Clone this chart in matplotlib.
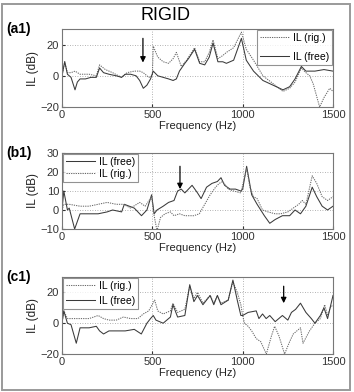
import matplotlib
matplotlib.use("Agg")
import matplotlib.pyplot as plt
from matplotlib.patches import Rectangle

plt.rcParams["font.family"] = ["Liberation Sans", "DejaVu Sans"]

# ---------------- data ----------------
# Panel (a1)
a_free_f = [0, 15, 30, 50, 72, 85, 100, 130, 160, 190, 208, 230, 260, 300, 330, 350, 380, 410, 430, 450, 470, 490,
            505, 530, 560, 590, 615, 633, 650, 680, 700, 734, 762, 790, 815, 836, 863, 890, 910, 950, 993, 1020,
            1060, 1112, 1168, 1223, 1260, 1290, 1325, 1350, 1400, 1450, 1500]
a_free_v = [0, 9, 1, -1, -9, -4, -2, -2, -1, -1, 5, 2, 1, 0, -1, 1, 1, 0, -3, -8, -6, -2,
            3, 0, -1, -2, -3, -2, 3, 8, 11, 17, 8, 7, 12, 21, 9, 9, 8, 10, 24, 10,
            3, -3, -6, -9, -7, -2, 6, 3, 3, 4, 3]
a_rig_f = [0, 15, 30, 50, 72, 100, 150, 190, 208, 240, 280, 330, 360, 400, 430, 450, 480, 500,
           505, 530, 560, 590, 615, 633, 660, 690, 734, 762, 790, 815, 836, 863, 890, 910, 950, 993, 1020,
           1060, 1112, 1168, 1223, 1260, 1290, 1325, 1350, 1371, 1390, 1426, 1450, 1482, 1500]
a_rig_v = [0, 9, 2, 2, 3, 1, 1, 0, 7, 4, 2, -1, 2, 3, 3, 2, -1, 0,
           19, 12, 9, 8, 11, 15, 6, 10, 18, 9, 9, 15, 23, 11, 13, 15, 18, 28, 17,
           10, 0, -5, -10, -8, -4, 5, 2, 0, -5, -20, -14, -8, -10]

# Panel (b1)
b_free_f = [0, 10, 30, 40, 70, 100, 150, 200, 250, 280, 330, 345, 400, 440, 470, 496, 510, 526, 560, 590,
            620, 640, 660, 680, 700, 720, 750, 770, 800, 830, 860, 880, 900, 930, 960, 990, 1000, 1022,
            1050, 1080, 1120, 1150, 1180, 1220, 1260, 1290, 1320, 1350, 1385, 1410, 1440, 1470, 1500]
b_free_v = [0, 10, 0, 1, -10, -2, -2, -2, -1, 0, -1, 3, 1, -3, 0, 8, -2, 0, 2, 4,
            5, 10, 11, 9, 11, 13, 9, 6, 12, 14, 15, 17, 13, 11, 11, 10, 11, 23,
            8, 3, -3, -7, -5, -3, -3, 0, -2, 2, 12, 7, 2, 0, 2]
b_rig_f = [0, 10, 40, 100, 150, 200, 250, 300, 340, 380, 430, 460, 496, 510, 526, 545, 570, 600, 620,
           650, 680, 700, 730, 760, 790, 820, 850, 870, 890, 920, 950, 990, 1022, 1040, 1060, 1080,
           1110, 1140, 1180, 1210, 1250, 1280, 1310, 1330, 1350, 1385, 1410, 1440, 1470, 1500]
b_rig_v = [0, 3, 3, 2, 2, 3, 4, 3, 3, 1, 4, 2, 7, -3, -11, -4, -2, -1, -3,
           -2, -3, -3, -3, -2, 3, 8, 12, 14, 15, 11, 10, 9, 22, 12, 7, 6,
           0, -1, -2, -2, -1, 1, 3, 5, 3, 18, 14, 7, 5, 7]

# Panel (c1)
c_free_f = [0, 10, 30, 50, 79, 100, 150, 190, 208, 230, 260, 300, 350, 400, 439, 470, 490, 505, 520, 560,
            600, 614, 640, 680, 707, 730, 750, 780, 820, 840, 860, 880, 920, 946, 970, 990, 1000, 1030,
            1075, 1090, 1110, 1130, 1150, 1180, 1220, 1250, 1270, 1293, 1320, 1350, 1380, 1400, 1430,
            1450, 1470, 1500]
c_free_v = [0, 8, 0, -1, -13, -3, -3, -2, -5, -7, -5, -5, -5, -4, -7, 0, 3, 5, 2, 0,
            4, 12, 4, 5, 25, 14, 18, 12, 18, 12, 18, 12, 15, 28, 15, 5, 5, 7,
            8, 3, 6, 3, 5, 1, 5, 2, 7, 9, 13, 7, 3, 0, 5,
            10, 3, 18]
c_rig_f = [0, 10, 30, 60, 100, 150, 200, 230, 260, 300, 340, 380, 420, 450, 480, 513, 530, 560, 600, 614,
           640, 680, 707, 730, 750, 780, 820, 840, 860, 880, 920, 946, 970, 990, 1000, 1010, 1030, 1050,
           1075, 1100, 1131, 1160, 1177, 1200, 1232, 1260, 1280, 1320, 1334, 1370, 1400, 1430, 1454,
           1470, 1485, 1500]
c_rig_v = [0, 8, 3, 3, 3, 3, 5, 3, 2, 2, 4, 3, 3, 6, 8, 15, 8, 6, 8, 13,
           7, 9, 24, 16, 20, 13, 18, 13, 18, 13, 15, 27, 20, 12, 5, 0, -2, -5,
           -10, -12, -20, -8, -2, -8, -20, -12, -7, -3, -13, -5, 0, 3, 12,
           5, 10, 12]

panel_labels = ["(a1)", "(b1)", "(c1)"]
arrow_pos = [(448, 24, 8.5), (653, 23, 11), (1227, 24, 13)]
ylims = [(-20, 30), (-10, 30), (-20, 30)]
yticks = [[-20, 0, 20], [-10, 0, 10, 20, 30], [-20, 0, 20]]
xticks = [0, 500, 1000, 1500]

# ---------------- figure ----------------
W, H = 354, 392
fig = plt.figure(figsize=(W / 100, H / 100), dpi=100)
fig.patch.set_facecolor("white")
fig.patches.append(Rectangle((2 / W, 2 / H), 348 / W, 386 / H, transform=fig.transFigure,
                             fill=False, edgecolor="#9a9a9a", linewidth=1.4))

def box(px_top, px_bot):
    return [62 / W, 1 - px_bot / H, 271 / W, (px_bot - px_top) / H]

axes = [fig.add_axes(box(29, 107)), fig.add_axes(box(153, 229)), fig.add_axes(box(277, 354))]

solid_c = "#3a3a3a"
dot_c = "#6a6a6a"
series = [
    ((a_rig_f, a_rig_v, "IL (rig.)", "rig"), (a_free_f, a_free_v, "IL (free)", "free")),
    ((b_free_f, b_free_v, "IL (free)", "free"), (b_rig_f, b_rig_v, "IL (rig.)", "rig")),
    ((c_rig_f, c_rig_v, "IL (rig.)", "rig"), (c_free_f, c_free_v, "IL (free)", "free")),
]
legend_anchor = [(1.0, 1.0), (0.0, 1.0), (0.0, 1.0)]
legend_loc = ["upper right", "upper left", "upper left"]
legend_spacing = [0.9, 0.2, 0.5]

for i, ax in enumerate(axes):
    handles = []
    for f, v, lab, kind in series[i]:
        if kind == "free":
            h, = ax.plot(f, v, color=solid_c, lw=0.75, ls="-", label=lab)
        else:
            h, = ax.plot(f, v, color=dot_c, lw=0.75, ls=(0, (1.2, 1.0)), label=lab)
        handles.append(h)
    ax.set_xlim(0, 1500)
    ax.set_ylim(*ylims[i])
    ax.set_xticks(xticks)
    ax.set_yticks(yticks[i])
    ax.grid(True, color="#9a9a9a", ls=(0, (1, 2)), lw=0.6)
    ax.tick_params(direction="in", length=2.5, labelsize=8, colors="#333333", pad=2)
    for s in ax.spines.values():
        s.set_color("#777777")
        s.set_linewidth(0.8)
    ax.set_xlabel("Frequency (Hz)", fontsize=8, labelpad=1, color="#222222")
    ax.set_ylabel("IL (dB)", fontsize=8.5, labelpad=1, color="#222222")
    leg = ax.legend(handles=handles, loc=legend_loc[i], bbox_to_anchor=legend_anchor[i],
                    fontsize=7.5, frameon=True, fancybox=False, edgecolor="#777777",
                    handlelength=2.8, handletextpad=0.4, borderpad=0.3,
                    labelspacing=legend_spacing[i], borderaxespad=0.05)
    leg.get_frame().set_linewidth(0.8)
    ax.text(-0.205, 1.0, panel_labels[i], transform=ax.transAxes, fontsize=10,
            fontweight="bold", ha="left", va="center")
    fx, y0, y1 = arrow_pos[i]
    ax.annotate("", xy=(fx, y1), xytext=(fx, y0),
                arrowprops=dict(arrowstyle="-|>", color="black", lw=0.9,
                                mutation_scale=8, shrinkA=0, shrinkB=0))

fig.text(166 / W, 1 - 15 / H, "RIGID", fontsize=13, ha="center", va="center")

fig.savefig("out.png", dpi=100)
